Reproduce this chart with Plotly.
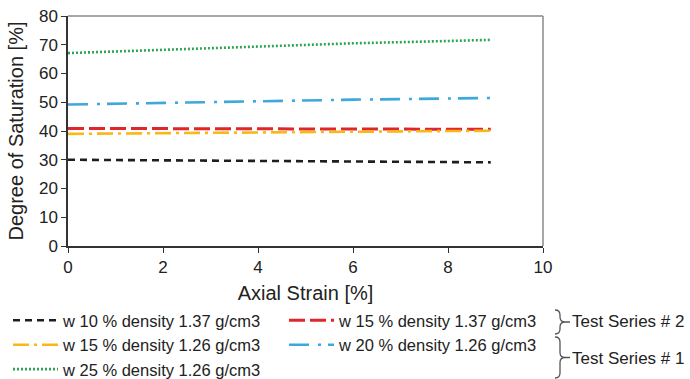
import plotly.graph_objects as go

# ---- data ----
strain = [0, 2, 4, 6, 8, 8.9]
sat_w10_d137 = [30.0, 29.8, 29.6, 29.4, 29.2, 29.1]
sat_w15_d137 = [40.9, 40.8, 40.7, 40.7, 40.6, 40.6]
sat_w15_d126 = [39.0, 39.3, 39.6, 39.8, 40.0, 40.1]
sat_w20_d126 = [49.2, 49.8, 50.3, 50.9, 51.3, 51.5]
sat_w25_d126 = [67.1, 68.3, 69.5, 70.5, 71.3, 71.7]

names = [
    "w 10 % density 1.37 g/cm3",
    "w 15 % density 1.37 g/cm3",
    "w 15 % density 1.26 g/cm3",
    "w 20 % density 1.26 g/cm3",
    "w 25 % density 1.26 g/cm3",
]
series = [sat_w10_d137, sat_w15_d137, sat_w15_d126, sat_w20_d126, sat_w25_d126]
colors = ["#1e1e1e", "#e0262a", "#f9b914", "#3ea7dc", "#2ea552"]
dashes = ["7px,5px", "16px,5px", "16px,5px,3px,5px", "20px,9px,3px,7px", "2px,2px"]
widths = [2.6, 3.0, 2.6, 2.6, 2.6]

group_labels = ["Test Series # 2", "Test Series # 1"]

FONT = "Liberation Sans, Arial, sans-serif"
W, H = 690, 379
L, R, T, B = 68, 147, 16, 133
PW, PH = W - L - R, H - T - B


def px(x):
    return (x - L) / PW


def py(y):
    return (H - B - y) / PH


fig = go.Figure()
for n, s, c, d, w in zip(names, series, colors, dashes, widths):
    fig.add_trace(go.Scatter(x=strain, y=s, mode="lines", name=n,
                             line=dict(color=c, dash=d, width=w)))

shapes = [
    dict(type="line", xref="paper", yref="paper", x0=0, x1=1, y0=1, y1=1,
         line=dict(color="#8a8a8a", width=1.5)),
    dict(type="line", xref="paper", yref="paper", x0=1, x1=1, y0=0, y1=1,
         line=dict(color="#8a8a8a", width=1.5)),
]


def brace(x0, top, bot, w=10, tail=5):
    mid = (top + bot) / 2
    r = 5
    xm = x0 + w / 2
    pts = [
        f"M{px(x0)},{py(top)}",
        f"Q{px(xm)},{py(top)} {px(xm)},{py(top + r)}",
        f"L{px(xm)},{py(mid - r)}",
        f"Q{px(xm)},{py(mid)} {px(x0 + w)},{py(mid)}",
        f"L{px(x0 + w + tail)},{py(mid)}",
        f"M{px(x0 + w)},{py(mid)}",
        f"Q{px(xm)},{py(mid)} {px(xm)},{py(mid + r)}",
        f"L{px(xm)},{py(bot - r)}",
        f"Q{px(xm)},{py(bot)} {px(x0)},{py(bot)}",
    ]
    return dict(type="path", xref="paper", yref="paper", path=" ".join(pts),
                line=dict(color="#555555", width=1.3))


shapes.append(brace(555, 310, 334))
shapes.append(brace(555, 337, 378))

annotations = [
    dict(text=group_labels[0], xref="paper", yref="paper", x=px(570), y=py(322),
         xanchor="left", yanchor="middle", showarrow=False,
         font=dict(family=FONT, size=17, color="#222")),
    dict(text=group_labels[1], xref="paper", yref="paper", x=px(570), y=py(358),
         xanchor="left", yanchor="middle", showarrow=False,
         font=dict(family=FONT, size=17, color="#222")),
]

fig.update_layout(
    width=W, height=H,
    margin=dict(l=L, r=R, t=T, b=B, autoexpand=False),
    paper_bgcolor="white", plot_bgcolor="white",
    font=dict(family=FONT, color="#222"),
    showlegend=True,
    legend=dict(orientation="h", x=px(560), y=py(303), xanchor="right", yanchor="top",
                entrywidth=216, itemwidth=45, tracegroupgap=0,
                font=dict(family=FONT, size=16.5, color="#222"),
                bgcolor="rgba(0,0,0,0)", borderwidth=0),
    shapes=shapes,
    annotations=annotations,
    xaxis=dict(range=[0, 10], dtick=2, ticks="outside", ticklen=5, tickwidth=1.3,
               tickcolor="#333", showline=True, linecolor="#333", linewidth=1.5,
               showgrid=False, zeroline=False,
               tickfont=dict(family=FONT, size=17, color="#222"),
               title=dict(text="Axial Strain [%]", standoff=10,
                          font=dict(family=FONT, size=20, color="#222"))),
    yaxis=dict(range=[0, 80], dtick=10, ticks="outside", ticklen=5, tickwidth=1.3,
               tickcolor="#333", showline=True, linecolor="#333", linewidth=1.5,
               showgrid=False, zeroline=False,
               tickfont=dict(family=FONT, size=17, color="#222"),
               title=dict(text="Degree of Saturation [%]", standoff=10,
                          font=dict(family=FONT, size=20, color="#222"))),
)

fig.write_html("out.html")
